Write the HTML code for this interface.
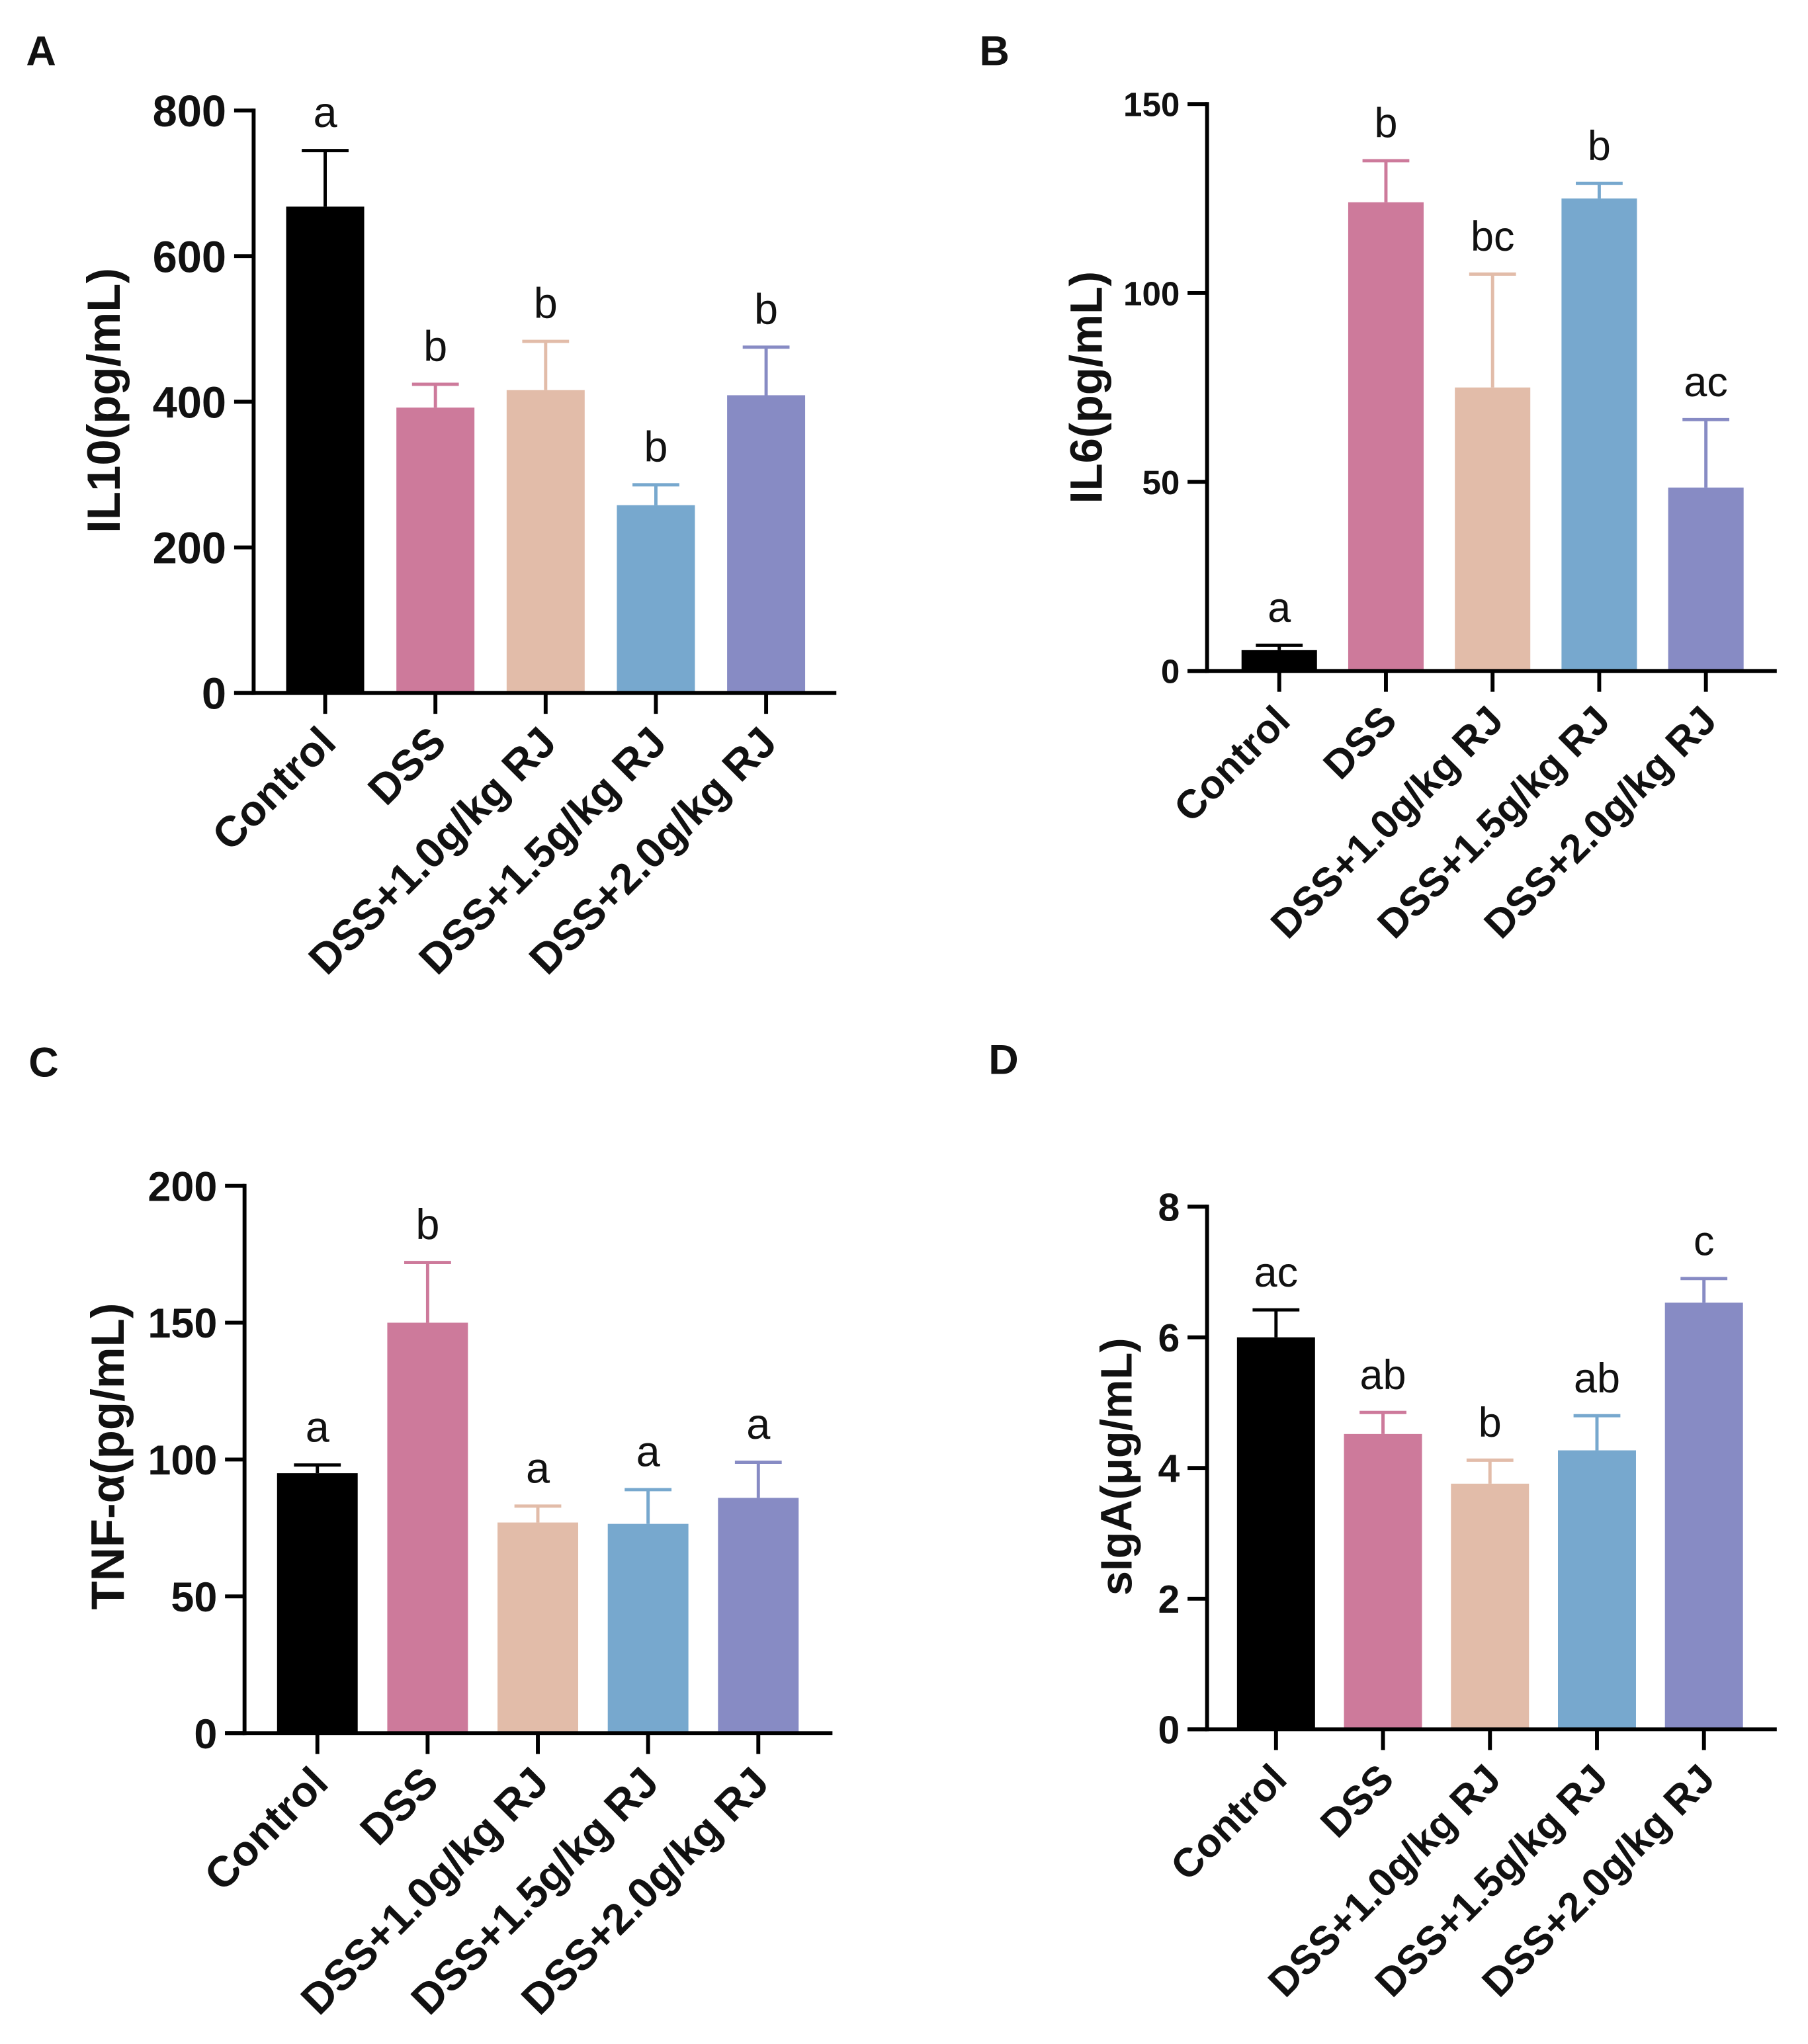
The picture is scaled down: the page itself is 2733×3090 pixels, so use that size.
<!DOCTYPE html>
<html><head><meta charset="utf-8">
<style>
html,body{margin:0;padding:0;background:#fff;}
svg{display:block;}
text{font-family:"Liberation Sans",Arial,sans-serif;}
</style></head>
<body>
<svg id="fig" width="2733" height="3090" viewBox="0 0 1390 1572" preserveAspectRatio="none" xmlns="http://www.w3.org/2000/svg">
<rect width="1390" height="1572" fill="#fff"/>
</svg>
<script>
const categories = ["Control","DSS","DSS+1.0g/kg RJ","DSS+1.5g/kg RJ","DSS+2.0g/kg RJ"];
const colors = ["#000000","#cd7a9b","#e2bca9","#77a8ce","#878bc4"];

const il10Values = [668, 392, 416, 258, 409];
const il10Errors = [77, 32, 67, 28, 66];
const il10Letters = ["a","b","b","b","b"];
const il10Ticks = [0,200,400,600,800];

const il6Values = [5.5, 124, 75, 125, 48.5];
const il6Errors = [1.3, 11, 30, 4, 18];
const il6Letters = ["a","b","bc","b","ac"];
const il6Ticks = [0,50,100,150];

const tnfValues = [95, 150, 77, 76.5, 86];
const tnfErrors = [3, 22, 6, 12.5, 13];
const tnfLetters = ["a","b","a","a","a"];
const tnfTicks = [0,50,100,150,200];

const igaValues = [6.0, 4.52, 3.76, 4.27, 6.53];
const igaErrors = [0.42, 0.33, 0.36, 0.53, 0.37];
const igaLetters = ["ac","ab","b","ab","c"];
const igaTicks = [0,2,4,6,8];

const NS = "http://www.w3.org/2000/svg";
const svg = document.getElementById("fig");
function mk(tag, attrs, parent){
  const e = document.createElementNS(NS, tag);
  for (const k in attrs) e.setAttribute(k, attrs[k]);
  (parent||svg).appendChild(e);
  return e;
}

function drawChart(cfg){
  const g = mk("g", {});
  
  
  const ymax = cfg.ticks[cfg.ticks.length-1];
  const yScale = v => cfg.y0 - (v/ymax)*(cfg.y0 - cfg.yTop);
  const xCenter = i => cfg.xFirst + i*cfg.step;
  const pl = mk("text", {x:cfg.letterX, y:cfg.letterY, "font-size":32, "font-weight":"bold", fill:"#111"}, g);
  pl.textContent = cfg.panel;
  
  
  cfg.values.forEach((v,i)=>{
    const cx = xCenter(i), top = yScale(v);
    const b = mk("rect", {x:cx-cfg.barW/2, y:top, width:cfg.barW, height:cfg.y0-top, fill:colors[i]}, g);
    
    
    const et = yScale(v + cfg.errors[i]);
    const eb = mk("path", {d:`M${cx},${top} V${et} M${cx-18},${et} H${cx+18}`, stroke:colors[i], "stroke-width":2.5, fill:"none"}, g);
    
    
    const lt = mk("text", {x:cx, y:et-18, "text-anchor":"middle", "font-size":cfg.sigSize, fill:"#111"}, g);
    lt.textContent = cfg.letters[i];
    
    
    const xt = mk("line", {x1:cx, x2:cx, y1:cfg.y0, y2:cfg.y0+16, stroke:"#000", "stroke-width":3}, g);
    
    
    const ax = cx+10, ay = cfg.y0+40;
    const xl = mk("text", {x:ax, y:ay, "text-anchor":"end", "font-size":cfg.xSize, "font-weight":"bold", fill:"#111", transform:`rotate(-45 ${ax} ${ay})`}, g);
    xl.textContent = categories[i];
    
    
  });
  const ya = mk("line", {x1:cfg.axisX, x2:cfg.axisX, y1:cfg.yTop-1.5, y2:cfg.y0+1.5, stroke:"#000", "stroke-width":3}, g);
  
  
  const xa = mk("line", {x1:cfg.axisX-15, x2:cfg.xEnd, y1:cfg.y0, y2:cfg.y0, stroke:"#000", "stroke-width":3}, g);
  
  
  cfg.ticks.forEach(t=>{
    const y = yScale(t);
    const tk = mk("line", {x1:cfg.axisX-15, x2:cfg.axisX, y1:y, y2:y, stroke:"#000", "stroke-width":3}, g);
    
    
    const tl = mk("text", {x:cfg.axisX-21, y:y+cfg.ySize*0.36, "text-anchor":"end", "font-size":cfg.ySize, "font-weight":"bold", fill:"#111"}, g);
    tl.textContent = t;
    
    
  });
  const yt = mk("text", {x:cfg.titleX, y:cfg.titleY, "text-anchor":"middle", "font-size":cfg.titleSize, "font-weight":"bold", fill:"#111", transform:`rotate(-90 ${cfg.titleX} ${cfg.titleY})`}, g);
  yt.textContent = cfg.title;
  
  
}

drawChart({name:"chart-il10", panel:"A", letterX:20, letterY:50, values:il10Values, errors:il10Errors, letters:il10Letters, ticks:il10Ticks,
  axisX:195, y0:533, yTop:85, xEnd:643, xFirst:250, step:84.75, barW:60, title:"IL10(pg/mL)", titleX:92, titleY:308, titleSize:36,
  ySize:34, xSize:33, sigSize:33});
drawChart({name:"chart-il6", panel:"B", letterX:753, letterY:50, values:il6Values, errors:il6Errors, letters:il6Letters, ticks:il6Ticks,
  axisX:928, y0:516, yTop:80, xEnd:1366, xFirst:983.5, step:82, barW:58, title:"IL6(pg/mL)", titleX:847, titleY:298, titleSize:35,
  ySize:26, xSize:31, sigSize:32});
drawChart({name:"chart-tnf", panel:"C", letterX:22, letterY:828, values:tnfValues, errors:tnfErrors, letters:tnfLetters, ticks:tnfTicks,
  axisX:188, y0:1333, yTop:912, xEnd:640, xFirst:244, step:84.75, barW:62, title:"TNF-α(pg/mL)", titleX:95, titleY:1120, titleSize:36,
  ySize:32, xSize:33, sigSize:33});
drawChart({name:"chart-siga", panel:"D", letterX:760, letterY:826, values:igaValues, errors:igaErrors, letters:igaLetters, ticks:igaTicks,
  axisX:928, y0:1330, yTop:928, xEnd:1366, xFirst:981, step:82.25, barW:60, title:"sIgA(μg/mL)", titleX:870, titleY:1128, titleSize:34,
  ySize:30, xSize:31, sigSize:32});
</script>
</body></html>
